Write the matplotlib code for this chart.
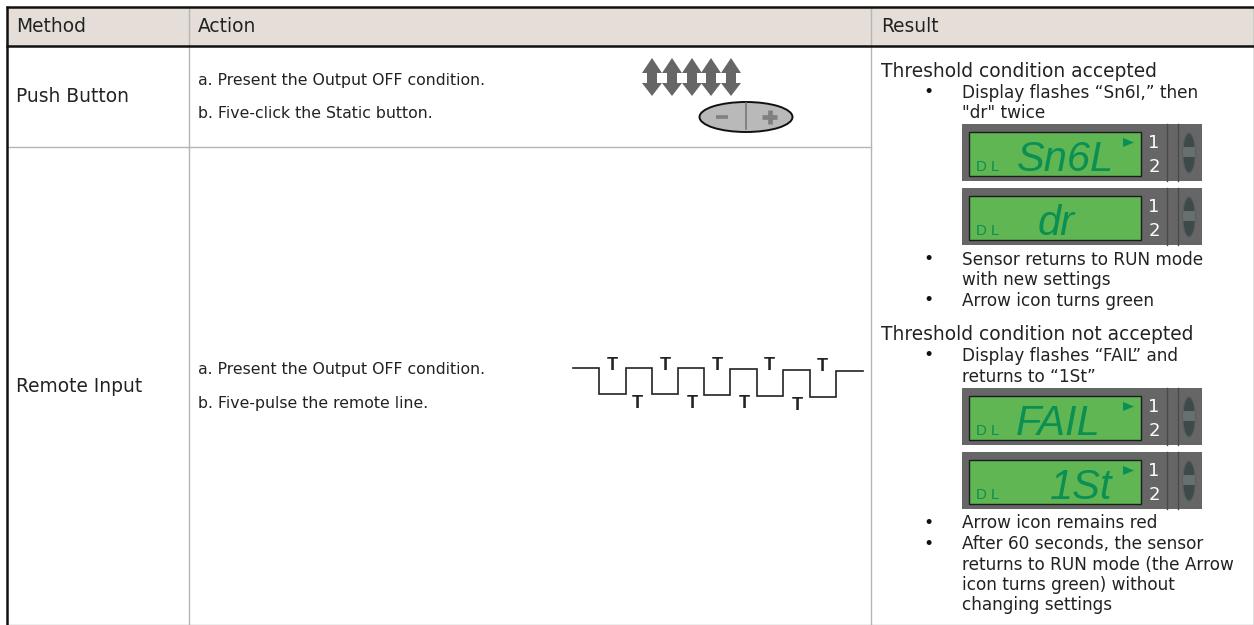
import matplotlib
matplotlib.use("Agg")
import matplotlib.pyplot as plt
from matplotlib.patches import Ellipse, Polygon, Rectangle

plt.rcParams['font.family'] = ['DejaVu Sans']
NARROW = ['Liberation Sans Narrow', 'Liberation Sans']

headers = ['Method', 'Action', 'Result']
methods = ['Push Button', 'Remote Input']
push_steps = ['a. Present the Output OFF condition.', 'b. Five-click the Static button.']
remote_steps = ['a. Present the Output OFF condition.', 'b. Five-pulse the remote line.']

result_titles = ['Threshold condition accepted', 'Threshold condition not accepted']
result_title_y = [77, 340.5]
# (text, baseline y) for the bulleted lines of the result column
result_lines = [
    ('Display flashes “Sn6I,” then', 97.5),
    ('"dr" twice', 117.5),
    ('Sensor returns to RUN mode', 265),
    ('with new settings', 285),
    ('Arrow icon turns green', 305.5),
    ('Display flashes “FAIL” and', 361),
    ('returns to “1St”', 381.5),
    ('Arrow icon remains red', 528),
    ('After 60 seconds, the sensor', 549),
    ('returns to RUN mode (the Arrow', 569.5),
    ('icon turns green) without', 590),
    ('changing settings', 610.5),
]
bullet_rows = [92, 259, 300, 355, 523, 544]

lcd_words = ['Sn6L', 'dr', 'FAIL', '1St']
lcd_tops = [124, 188, 388, 452]
lcd_arrow = [True, False, True, True]
word_x = [1017, 1038, 1016, 1050]

pulse_x = [573, 599, 599, 626, 626, 652, 652, 678, 678, 704, 704, 730, 730, 757, 757, 783, 783, 810, 810, 836, 836, 863]
pulse_y = [368, 368, 394, 394, 368, 368, 394, 394, 368, 368, 395, 395, 369, 369, 396, 396, 370, 370, 397, 397, 371, 371]
t_top_x = [612, 665, 717, 769, 822]
t_top_y = [370, 370, 370, 370, 371]
t_low_x = [637, 692, 744, 797]
t_low_y = [408, 408, 408, 410]

arrow_x = [652, 672, 692, 711, 731]

fig = plt.figure(figsize=(12.54, 6.25), dpi=100)
ax = fig.add_axes([0, 0, 1, 1])
ax.set_xlim(0, 1254)
ax.set_ylim(625, 0)
ax.axis('off')

# table frame
ax.add_patch(Rectangle((7, 7), 1247, 39, fc='#e5ddd7', ec='none'))
ax.plot([189, 189], [7, 625], color='#b5b5b5', lw=1)
ax.plot([871, 871], [7, 625], color='#b5b5b5', lw=1)
ax.plot([8, 871], [147, 147], color='#b5b5b5', lw=1)
ax.plot([1253.5, 1253.5], [7, 625], color='#777777', lw=1)
ax.plot([7, 1254], [624.5, 624.5], color='#aaaaaa', lw=1)
ax.plot([6, 1254], [7, 7], color='#111111', lw=1.8, solid_capstyle='butt')
ax.plot([6, 1254], [46, 46], color='#111111', lw=1.8, solid_capstyle='butt')
ax.plot([7, 7], [6, 625], color='#111111', lw=1.8, solid_capstyle='butt')

txt = dict(color='#222222', va='baseline')
for name, x in zip(headers, [16, 198, 881]):
    ax.text(x, 32, name, fontsize=13.4, **txt)
ax.text(16, 102, methods[0], fontsize=13.4, **txt)
ax.text(16, 392, methods[1], fontsize=13.4, **txt)
for s, y in zip(push_steps, [85, 118.5]):
    ax.text(198, y, s, fontsize=11.3, **txt)
for s, y in zip(remote_steps, [374, 408]):
    ax.text(198, y, s, fontsize=11.3, **txt)
for s, y in zip(result_titles, result_title_y):
    ax.text(881, y, s, fontsize=13.4, **txt)
for s, y in result_lines:
    ax.text(962, y, s, fontsize=12.2, **txt)
for y in bullet_rows:
    ax.text(929, y + 5, '•', fontsize=12.5, color='#111111', ha='center', va='baseline')

# up/down arrows
for x in arrow_x:
    ax.add_patch(Polygon([(x, 58), (x + 10, 73), (x + 5, 73), (x + 5, 83), (x + 10, 83),
                          (x, 96), (x - 10, 83), (x - 5, 83), (x - 5, 73), (x - 10, 73)],
                         fc='#666666', ec='none'))

# button
ax.add_patch(Ellipse((746, 117), 93, 30, fc='#b9b9b9', ec='#111111', lw=1.4))
ax.plot([746, 746], [103, 129], color='#777777', lw=1.2)
ax.plot([716, 728], [116.5, 116.5], color='#808080', lw=2.6, solid_capstyle='butt')
ax.plot([762, 777], [117, 117], color='#808080', lw=3.4, solid_capstyle='butt')
ax.plot([769.5, 769.5], [110, 124], color='#808080', lw=3.4, solid_capstyle='butt')

# remote pulses
ax.plot(pulse_x, pulse_y, color='#222222', lw=1.2, solid_joinstyle='miter')
for x, y in zip(t_top_x + t_low_x, t_top_y + t_low_y):
    ax.text(x, y, 'T', fontsize=13, family=NARROW, fontweight='bold', color='#222222',
            ha='center', va='baseline')

# LCD panels
for word, top, has_arrow, wx in zip(lcd_words, lcd_tops, lcd_arrow, word_x):
    ax.add_patch(Rectangle((962, top), 240, 57, fc='#666666', ec='none'))
    ax.add_patch(Rectangle((968.5, top + 8), 172, 44, fc='#5fb653', ec='#1c1c1c', lw=1))
    ax.plot([1167, 1167], [top, top + 57], color='#4a4a4a', lw=1)
    ax.plot([1177.5, 1177.5], [top, top + 57], color='#4a4a4a', lw=1)
    ax.add_patch(Ellipse((1189, top + 29), 12.5, 40, fc='#3e4a4a', ec='#555f5f', lw=0.8))
    ax.add_patch(Rectangle((1183, top + 23), 12, 10, fc='#68706f', ec='none'))
    ax.text(1154, top + 24, '1', fontsize=13, color='white', ha='center', va='baseline')
    ax.text(1154, top + 48, '2', fontsize=13, color='white', ha='center', va='baseline')
    ax.text(976, top + 47, 'D L', fontsize=10.8, family=NARROW, color='#0c8f52', va='baseline')
    ax.text(wx, top + 47, word, fontsize=30, family=NARROW, style='italic',
            color='#0c8f52', va='baseline')
    if has_arrow:
        ax.add_patch(Polygon([(1123, top + 14), (1134, top + 18.5), (1123, top + 23)], fc='#0c8f52', ec='none'))

fig.savefig('out.png', dpi=100)
